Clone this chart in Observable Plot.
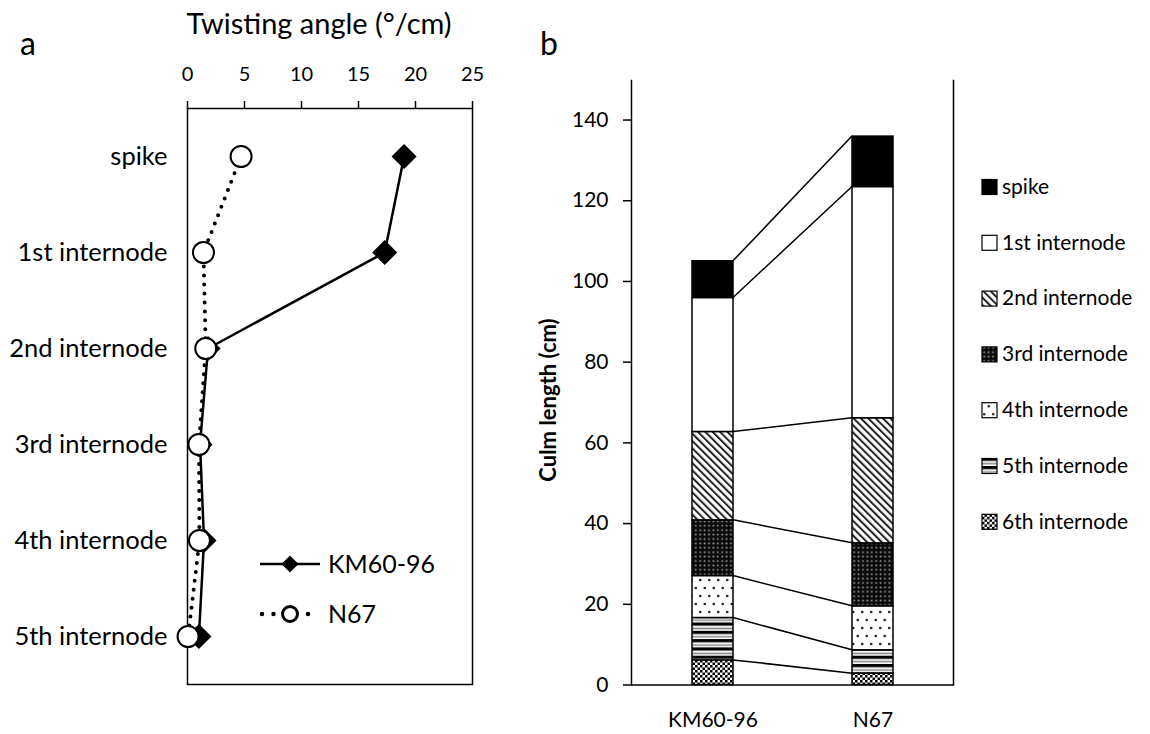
<!DOCTYPE html>
<html>
<head>
<meta charset="utf-8">
<script src="https://cdn.jsdelivr.net/npm/d3@7"></script>
<script src="https://cdn.jsdelivr.net/npm/@observablehq/plot@0.6"></script>
<style>
  body { margin: 0; background: #fff; }
  #wrap { position: relative; width: 1150px; height: 734px; font-family: Lato, sans-serif; color: #000; }
  #wrap svg { position: absolute; top: 0; overflow: visible; }
  .tag { position: absolute; font-size: 32px; line-height: 1; }
</style>
</head>
<body>
<div id="wrap">
  <div class="tag" style="left:20px; top:27px;">a</div>
  <div class="tag" style="left:540px; top:27px;">b</div>
</div>
<script>
// ---- Panel a: twisting angle per organ ----
const organs = ["spike", "1st internode", "2nd internode", "3rd internode", "4th internode", "5th internode"];
const twistKM = [19.0, 17.3, 1.8, 1.1, 1.45, 1.0];
const twistN67 = [4.7, 1.4, 1.6, 1.0, 1.05, 0.05];
const twistTicks = [0, 5, 10, 15, 20, 25];

// ---- Panel b: culm length composition ----
const cultivars = ["KM60-96", "N67"];
const segments = ["6th internode", "5th internode", "4th internode", "3rd internode", "2nd internode", "1st internode", "spike"];
const lengthKM = [6.1, 10.5, 10.4, 13.8, 21.9, 33.2, 9.1];
const lengthN67 = [2.8, 5.8, 10.9, 15.6, 31.0, 57.3, 12.5];
const lengthTicks = [0, 20, 40, 60, 80, 100, 120, 140];
const legendOrder = ["spike", "1st internode", "2nd internode", "3rd internode", "4th internode", "5th internode", "6th internode"];

const FONT = "Lato, sans-serif";
const wrap = document.getElementById("wrap");

const kmRows = organs.map((o, i) => ({organ: o, angle: twistKM[i]}));
const n67Rows = organs.map((o, i) => ({organ: o, angle: twistN67[i]}));

const plotA = Plot.plot({
  width: 500,
  height: 734,
  marginLeft: 187,
  marginRight: 28,
  marginTop: 108,
  marginBottom: 50,
  style: {fontFamily: FONT, color: "#000", background: "transparent", overflow: "visible"},
  x: {domain: [0, 25]},
  y: {type: "point", domain: organs, padding: 0.5},
  marks: [
    Plot.frame({stroke: "#000", strokeWidth: 1.5}),
    Plot.axisX({anchor: "top", ticks: twistTicks, tickSize: 8, tickPadding: 20, fontSize: 20, label: null, strokeWidth: 1.5}),
    Plot.axisY({tickSize: 0, tickPadding: 20, fontSize: 25.5, label: null}),
    Plot.text(["Twisting angle (°/cm)"], {frameAnchor: "top", lineAnchor: "bottom", dy: -75, dx: -11, fontSize: 29}),
    Plot.line(kmRows, {x: "angle", y: "organ", stroke: "#000", strokeWidth: 2.5}),
    Plot.dot(kmRows, {x: "angle", y: "organ", symbol: "diamond2", r: 11.3, fill: "#000", stroke: "none"}),
    Plot.line(n67Rows, {x: "angle", y: "organ", stroke: "#000", strokeWidth: 4, strokeDasharray: "0 9", strokeLinecap: "round"}),
    Plot.dot(n67Rows, {x: "angle", y: "organ", r: 10.5, fill: "#fff", stroke: "#000", strokeWidth: 2})
  ]
});
plotA.style.left = "0px";
wrap.appendChild(plotA);

// legend inside panel a
{
  const g = d3.select(plotA).append("g").attr("font-family", FONT).attr("font-size", 25).attr("text-anchor", "start");
  const k = g.append("g").attr("transform", "translate(0,564)");
  k.append("line").attr("x1", 260).attr("x2", 320).attr("stroke", "#000").attr("stroke-width", 2.5);
  k.append("path").attr("transform", "translate(290,0)").attr("d", d3.symbol(d3.symbolDiamond2, 184)()).attr("fill", "#000");
  k.append("text").attr("x", 328).attr("dy", "0.36em").text("KM60-96");
  const n = g.append("g").attr("transform", "translate(0,614)");
  n.append("line").attr("x1", 262).attr("x2", 314).attr("stroke", "#000").attr("stroke-width", 4.5)
    .attr("stroke-dasharray", "0 11.5").attr("stroke-linecap", "round");
  n.append("circle").attr("cx", 290).attr("r", 7.5).attr("fill", "#fff").attr("stroke", "#000").attr("stroke-width", 3);
  n.append("text").attr("x", 328).attr("dy", "0.36em").text("N67");
}

// ---- panel b ----
const patternId = {
  "spike": "pat-spike",
  "1st internode": "pat-i1",
  "2nd internode": "pat-i2",
  "3rd internode": "pat-i3",
  "4th internode": "pat-i4",
  "5th internode": "pat-i5",
  "6th internode": "pat-i6"
};

const culm = cultivars.flatMap((c, ci) =>
  segments.map((s, i) => ({cultivar: c, segment: s, length: (ci === 0 ? lengthKM : lengthN67)[i]}))
);

const plotB = Plot.plot({
  width: 650,
  height: 734,
  marginLeft: 131,
  marginRight: 197,
  marginTop: 80,
  marginBottom: 49.5,
  style: {fontFamily: FONT, color: "#000", background: "transparent", overflow: "visible"},
  x: {type: "band", domain: cultivars, paddingInner: 0.745, paddingOuter: 0.373},
  y: {domain: [0, 149.8]},
  color: {type: "identity"},
  marks: [
    Plot.frame({anchor: "left", stroke: "#000", strokeWidth: 1.5}),
    Plot.frame({anchor: "right", stroke: "#000", strokeWidth: 1.5}),
    Plot.ruleY([0], {stroke: "#000", strokeWidth: 1.5}),
    Plot.barY(culm, {x: "cultivar", y: "length", fill: d => `url(#${patternId[d.segment]})`, stroke: "#000", strokeWidth: 1.5}),
    Plot.axisY({ticks: lengthTicks, tickSize: 8, tickPadding: 15, fontSize: 21, label: null, strokeWidth: 1.5}),
    Plot.axisX({tickSize: 0, tickPadding: 27, fontSize: 21, label: null})
  ]
});
plotB.style.left = "500px";
wrap.appendChild(plotB);

// fill patterns for the culm segments
{
  const svg = d3.select(plotB);
  const defs = svg.insert("defs", ":first-child");
  const pat = (id, w, h, extra) => {
    const p = defs.append("pattern").attr("id", id).attr("patternUnits", "userSpaceOnUse")
      .attr("width", w).attr("height", h);
    if (extra) p.attr("patternTransform", extra);
    return p;
  };
  pat("pat-spike", 4, 4).append("rect").attr("width", 4).attr("height", 4).attr("fill", "#000");
  pat("pat-i1", 4, 4).append("rect").attr("width", 4).attr("height", 4).attr("fill", "#fff");
  {
    const p = pat("pat-i2", 5.2, 5.2, "rotate(-45)");
    p.append("rect").attr("width", 5.2).attr("height", 5.2).attr("fill", "#fff");
    p.append("rect").attr("width", 2).attr("height", 5.2).attr("fill", "#222");
  }
  {
    const p = pat("pat-i3", 4.4, 4.4);
    p.append("rect").attr("width", 4.4).attr("height", 4.4).attr("fill", "#0a0a0a");
    p.append("rect").attr("x", 1.4).attr("y", 1.4).attr("width", 1.6).attr("height", 1.6).attr("fill", "#aaa");
  }
  {
    const p = pat("pat-i4", 9, 16);
    p.append("rect").attr("width", 9).attr("height", 16).attr("fill", "#fff");
    p.append("circle").attr("cx", 2.25).attr("cy", 4).attr("r", 1.3).attr("fill", "#222");
    p.append("circle").attr("cx", 6.75).attr("cy", 12).attr("r", 1.3).attr("fill", "#222");
  }
  {
    const p = pat("pat-i5", 8, 8.3);
    p.append("rect").attr("width", 8).attr("height", 8.3).attr("fill", "#fff");
    p.append("rect").attr("width", 8).attr("height", 3.2).attr("fill", "#000");
    p.append("rect").attr("y", 5.2).attr("width", 8).attr("height", 1.6).attr("fill", "#888");
  }
  {
    const p = pat("pat-i6", 5, 5);
    p.append("rect").attr("width", 5).attr("height", 5).attr("fill", "#fff");
    p.append("rect").attr("width", 2.5).attr("height", 2.5).attr("fill", "#000");
    p.append("rect").attr("x", 2.5).attr("y", 2.5).attr("width", 2.5).attr("height", 2.5).attr("fill", "#000");
  }

  // connecting lines between segment boundaries of both culms
  const sx = plotB.scale("x"), sy = plotB.scale("y");
  const bw = sx.bandwidth;
  const cumKM = d3.cumsum(lengthKM), cumN67 = d3.cumsum(lengthN67);
  const xa = sx.apply(cultivars[0]) + bw, xb = sx.apply(cultivars[1]);
  const links = svg.insert("g", "g[aria-label='bar']").attr("stroke", "#000").attr("stroke-width", 1.5);
  cumKM.forEach((v, i) => {
    links.append("line").attr("x1", xa).attr("y1", sy.apply(v)).attr("x2", xb).attr("y2", sy.apply(cumN67[i]));
  });

  // y-axis title
  svg.append("text").attr("transform", "translate(48,400) rotate(-90)").attr("text-anchor", "middle")
    .attr("dy", "0.35em").attr("font-family", FONT).attr("font-weight", "bold").attr("font-size", 22)
    .text("Culm length (cm)");

  // legend
  const lg = svg.append("g").attr("font-family", FONT).attr("font-size", 21).attr("text-anchor", "start");
  legendOrder.forEach((s, i) => {
    const row = lg.append("g").attr("transform", `translate(482,${187 + i * 55.8})`);
    row.append("rect").attr("x", 0).attr("y", -7.5).attr("width", 15).attr("height", 15)
      .attr("fill", `url(#${patternId[s]})`).attr("stroke", "#000").attr("stroke-width", 1.2);
    row.append("text").attr("x", 20).attr("dy", "0.32em").text(s);
  });
}
</script>
</body>
</html>
